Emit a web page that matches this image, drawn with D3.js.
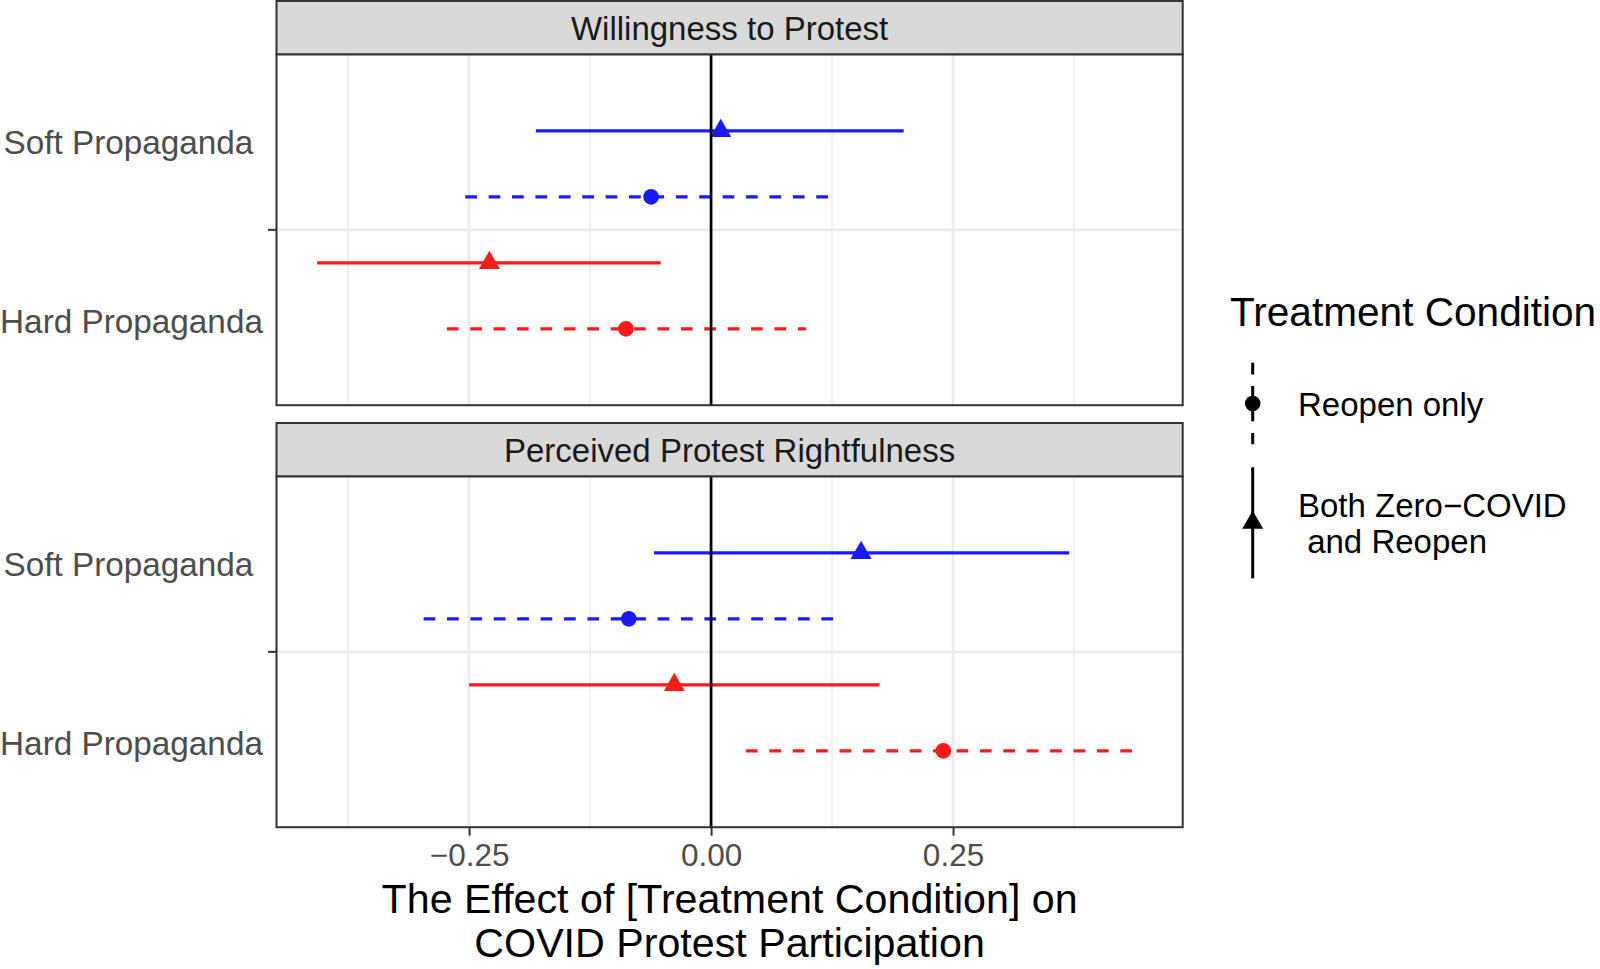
<!DOCTYPE html>
<meta charset="utf-8">
<style>
  body { margin: 0; background: #fff; }
  text { font-family: "Liberation Sans", Arial, sans-serif; }
</style>
<svg width="1600" height="969"></svg>
<script src="https://d3js.org/d3.v7.min.js"></script>
<script>

// ---- data ----
var panels = ["Willingness to Protest", "Perceived Protest Rightfulness"];
var groups = ["Soft Propaganda", "Hard Propaganda"];
var conditions = ["Reopen only", "Both Zero\u2212COVID\n and Reopen"];

// rows inside each panel, top to bottom
var rowGroup = [0, 0, 1, 1];     // index into groups
var rowCond  = [1, 0, 1, 0];     // index into conditions

var estimate = [[0.010, -0.062, -0.229, -0.088],
                [0.155, -0.085, -0.038,  0.240]];
var lower    = [[-0.181, -0.254, -0.407, -0.273],
                [-0.059, -0.297, -0.250,  0.036]];
var upper    = [[0.199, 0.125, -0.052, 0.098],
                [0.370, 0.130,  0.174, 0.438]];

var xMajor = [-0.25, 0, 0.25];
var xMinor = [-0.375, -0.125, 0.125, 0.375];

// ---- layout ----
var svg = d3.select("svg"),
    left = 276.5,
    right = 1182.7,
    panelTop = [54.5, 476.5],
    panelH = 350.7,
    stripH = 53.5,
    dash = "11.7,11.7";

var groupColor = ["#1a1aff", "#ff1a1a"];

var x = d3.scaleLinear().domain([-0.449, 0.4873]).range([left, right]);

var triangle = d3.symbol().type(d3.symbolTriangle).size(191);

panels.forEach(function (name, p) {
  var top = panelTop[p],
      g = svg.append("g");

  var y = d3.scalePoint()
    .domain(d3.range(rowGroup.length))
    .range([top, top + panelH])
    .padding(1.157);
  var mid = top + panelH / 2;

  // strip
  g.append("rect")
    .attr("x", left).attr("y", top - stripH)
    .attr("width", right - left).attr("height", stripH)
    .attr("fill", "#d9d9d9").attr("stroke", "#333").attr("stroke-width", 2);
  g.append("text")
    .attr("x", (left + right) / 2).attr("y", top - stripH / 2 + 12)
    .attr("text-anchor", "middle").attr("font-size", 33).attr("fill", "#1a1a1a")
    .text(name);

  // panel background + grid
  g.append("rect")
    .attr("x", left).attr("y", top)
    .attr("width", right - left).attr("height", panelH)
    .attr("fill", "#fff");

  g.selectAll(".minor").data(xMinor).enter().append("line")
    .attr("x1", x).attr("x2", x).attr("y1", top).attr("y2", top + panelH)
    .attr("stroke", "#ebebeb").attr("stroke-width", 1.4);
  g.selectAll(".major").data(xMajor).enter().append("line")
    .attr("x1", x).attr("x2", x).attr("y1", top).attr("y2", top + panelH)
    .attr("stroke", "#ebebeb").attr("stroke-width", 2.6);
  g.append("line")
    .attr("x1", left).attr("x2", right).attr("y1", mid).attr("y2", mid)
    .attr("stroke", "#ebebeb").attr("stroke-width", 2.6);

  var rows = d3.range(rowGroup.length);

  // intervals
  g.selectAll(".ci").data(rows).enter().append("line")
    .attr("x1", function (i) { return x(lower[p][i]); })
    .attr("x2", function (i) { return x(upper[p][i]); })
    .attr("y1", function (i) { return y(i); })
    .attr("y2", function (i) { return y(i); })
    .attr("stroke", function (i) { return groupColor[rowGroup[i]]; })
    .attr("stroke-width", 3.3)
    .attr("stroke-dasharray", function (i) { return rowCond[i] === 0 ? dash : null; });

  // estimates
  rows.forEach(function (i) {
    var cx = x(estimate[p][i]), cy = y(i);
    if (rowCond[i] === 0) {
      g.append("circle").attr("cx", cx).attr("cy", cy).attr("r", 7.8)
        .attr("fill", groupColor[rowGroup[i]]);
    } else {
      g.append("path").attr("d", triangle)
        .attr("transform", "translate(" + cx + "," + cy + ")")
        .attr("fill", groupColor[rowGroup[i]]);
    }
  });

  // zero line
  g.append("line")
    .attr("x1", x(0)).attr("x2", x(0)).attr("y1", top).attr("y2", top + panelH)
    .attr("stroke", "#000").attr("stroke-width", 2.7);

  // border
  g.append("rect")
    .attr("x", left).attr("y", top)
    .attr("width", right - left).attr("height", panelH)
    .attr("fill", "none").attr("stroke", "#333").attr("stroke-width", 2);

  // y axis: a tick at the middle, group labels near their rows
  g.append("line")
    .attr("x1", left - 8.5).attr("x2", left).attr("y1", mid).attr("y2", mid)
    .attr("stroke", "#333").attr("stroke-width", 2);

  var labelY = [mid - 87.5 + 11.5, mid + 91.5 + 11.5],
      labelX = [128.4, 131.5];
  g.selectAll(".ylab").data(groups).enter().append("text")
    .attr("x", function (d, k) { return labelX[k]; })
    .attr("y", function (d, k) { return labelY[k]; })
    .attr("text-anchor", "middle").attr("font-size", 33.3).attr("fill", "#4d4d4d")
    .text(function (d) { return d; });
});

// ---- x axis under the lower panel ----
var bottom = panelTop[1] + panelH;
var axis = svg.append("g").attr("transform", "translate(0," + bottom + ")")
  .call(d3.axisBottom(x).tickValues(xMajor).tickFormat(d3.format(".2f"))
        .tickSizeInner(8.5).tickSizeOuter(0).tickPadding(7));
axis.select(".domain").remove();
axis.selectAll(".tick line").attr("stroke", "#333").attr("stroke-width", 2);
axis.selectAll(".tick text")
  .attr("font-size", 31.5).attr("fill", "#4d4d4d")
  .attr("dy", null).attr("y", 38.5)
  .style("font-family", "'Liberation Sans', Arial, sans-serif");

var xTitle = ["The Effect of [Treatment Condition] on", "COVID Protest Participation"];
svg.selectAll(".xtitle").data(xTitle).enter().append("text")
  .attr("x", (left + right) / 2)
  .attr("y", function (d, k) { return 912.5 + k * 44; })
  .attr("text-anchor", "middle").attr("font-size", 41.2).attr("fill", "#000")
  .text(function (d) { return d; });

// ---- legend ----
var lg = svg.append("g");
lg.append("text").attr("x", 1230).attr("y", 326)
  .attr("font-size", 40.6).attr("fill", "#000").text("Treatment Condition");

var keyX = 1252.7,
    keyTop = [362.7, 467.3],
    keyH = [81.6, 111];

conditions.forEach(function (label, c) {
  var t = keyTop[c], h = keyH[c], cy = t + h / 2;
  lg.append("line")
    .attr("x1", keyX).attr("x2", keyX).attr("y1", t).attr("y2", t + h)
    .attr("stroke", "#000").attr("stroke-width", 3)
    .attr("stroke-dasharray", c === 0 ? dash : null);
  if (c === 0) {
    lg.append("circle").attr("cx", keyX).attr("cy", cy).attr("r", 7.8).attr("fill", "#000");
  } else {
    lg.append("path").attr("d", triangle)
      .attr("transform", "translate(" + keyX + "," + cy + ")").attr("fill", "#000");
  }
  var lines = label.split("\n");
  lg.selectAll(".lab" + c).data(lines).enter().append("text")
    .attr("x", 1298)
    .attr("y", function (d, k) { return cy + 12 + (k - (lines.length - 1) / 2) * 36; })
    .attr("font-size", 33).attr("fill", "#000")
    .attr("xml:space", "preserve").style("white-space", "pre")
    .text(function (d) { return d; });
});

</script>
